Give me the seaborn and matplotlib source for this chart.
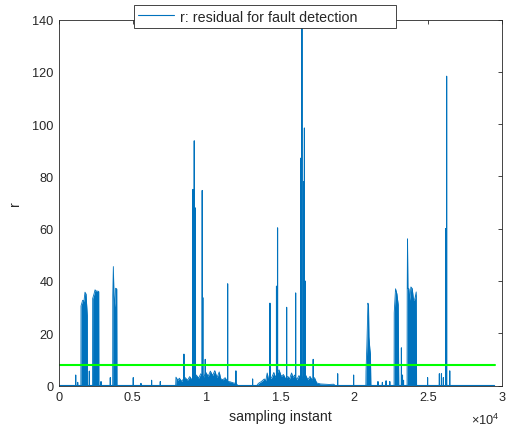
"""
Residual r for fault detection vs. sampling instant, with detection threshold
"""

import numpy as np
import pandas as pd
import matplotlib
matplotlib.use('Agg')
import matplotlib.pyplot as plt
from matplotlib.ticker import FuncFormatter
import seaborn as sns

# isolated spikes of the residual (sampling instant, peak value)
spike_t = [1130, 1265, 2055, 2845, 3475, 5030, 5550, 6270, 6860, 8460,
           9070, 9160, 9210, 9240, 9700, 9740, 9905, 11420, 11980, 13110,
           14285, 14730, 14800, 15415, 16025, 16385, 16450, 16570, 16620, 16660,
           17215, 18870, 19950, 21600, 21900, 22150, 22400, 23190, 23260, 23330,
           24960, 25760, 25900, 26030, 26180, 26250, 26460]
spike_r = [4, 1.2, 5.5, 1.5, 3, 3, 0.8, 2, 1.5, 12,
           75, 93.6, 68, 39, 74.6, 33.6, 10, 38.9, 5.6, 2.5,
           31.5, 38, 60.3, 29.9, 35.4, 87, 137, 78, 98.5, 40,
           10, 4.5, 4, 1.5, 1.2, 1.8, 1.5, 14.4, 4, 2,
           3, 4.5, 4.5, 3, 60, 118.3, 5.6]

# dense parts (fault bursts) as upper envelope points
burst_t = [1480, 1490, 1600, 1690, 1760, 1830, 1875, 1915, 1925,
           2270, 2280, 2370, 2440, 2530, 2620, 2690, 2700,
           3635, 3640, 3680, 3720, 3780, 3830, 3910, 3925,
           20780, 20790, 20850, 20920, 20960, 20990, 21050, 21090, 21120,
           22690, 22700, 22790, 22880, 22970, 23010,
           23570, 23580, 23600, 23630, 23690, 23760, 23830, 23920, 24010, 24100, 24190, 24215]
burst_r = [0, 30.4, 32.6, 32.3, 35.7, 35, 30.7, 26.8, 0,
           0, 33.3, 35, 36.6, 36.1, 36.1, 36, 0,
           0, 34.5, 45.5, 34.5, 30, 37.2, 37, 0,
           0, 5.5, 15.6, 31.5, 30.5, 18.6, 14, 12, 0,
           0, 27.8, 37, 35.1, 30.9, 0,
           0, 37, 56.1, 37, 37.1, 32.6, 37.7, 37.1, 32.6, 33.2, 35.8, 0]

# low level noise floor (upper envelope)
noise_t = [7900, 7920, 8050, 8150, 8300, 8420, 8550, 8700, 8850, 9000, 9150, 9300,
           9450, 9600, 9800, 9950, 10100, 10250, 10400, 10550, 10700, 10850, 10950,
           11100, 11250, 11400, 11600, 11800, 12000, 12100,
           13400, 13500, 13700, 13900, 14000, 14100, 14200, 14400, 14550, 14650, 14750,
           14900, 15050, 15200, 15350, 15500, 15600, 15750, 15850, 15950, 16100, 16250,
           16400, 16550, 16700, 16850, 17000, 17150, 17300, 17450, 17700, 18000, 18300,
           18600, 18700]
noise_r = [0, 3.2, 2.0, 2.8, 1.6, 2.4, 3.0, 2.0, 3.4, 2.2, 3.0, 4.0,
           2.8, 4.5, 3.2, 5.0, 3.5, 5.5, 3.8, 5.7, 3.0, 5.2, 2.6,
           2.2, 3.0, 1.6, 1.4, 1.0, 0.8, 0,
           0, 0.8, 1.5, 2.5, 1.8, 4.8, 2.0, 3.0, 5.0, 3.0, 4.5,
           6.0, 3.5, 4.2, 2.5, 3.5, 2.4, 4.8, 3.0, 4.0, 2.2, 3.8,
           2.6, 3.5, 4.0, 2.2, 3.5, 2.0, 3.0, 1.0, 0.6, 0.5, 0.4,
           0.5, 0]

t_end = 29500
threshold = 7.8

BLUE = '#0072BD'
GREEN = '#00FF00'
DARK = '#262626'

# spike series: baseline at 0 with a narrow peak at each spike
line_t, line_r = [0], [0.0]
for t, r in zip(spike_t, spike_r):
    line_t += [t - 2, t, t + 2]
    line_r += [0.0, r, 0.0]
line_t.append(t_end)
line_r.append(0.0)
spikes = pd.DataFrame({'t': line_t, 'r': line_r})

floor = pd.DataFrame({'t': burst_t + noise_t, 'r': burst_r + noise_r}).sort_values('t')
thresh = pd.DataFrame({'t': [0, t_end], 'r': [threshold, threshold]})

sns.set_style('white')
plt.rcParams['font.family'] = ['Liberation Sans', 'DejaVu Sans']
plt.rcParams['mathtext.fontset'] = 'custom'
plt.rcParams['mathtext.rm'] = 'Liberation Sans'
plt.rcParams['mathtext.it'] = 'Liberation Sans:italic'

fig = plt.figure(figsize=(5.08, 4.27), dpi=100)
ax = fig.add_axes([59 / 508, 1 - 386.5 / 427, 443 / 508, 366 / 427])

sns.lineplot(data=spikes, x='t', y='r', sort=False, estimator=None,
             color=BLUE, linewidth=0.8, ax=ax)
ax.fill_between(floor['t'], floor['r'], color=BLUE, linewidth=0)
sns.lineplot(data=floor, x='t', y='r', sort=False, estimator=None,
             color=BLUE, linewidth=0.6, ax=ax)
sns.lineplot(data=thresh, x='t', y='r', sort=False, estimator=None,
             color=GREEN, linewidth=1.5, ax=ax)

ax.set_xlim(0, 30000)
ax.set_ylim(0, 140)
ax.set_xticks(np.arange(0, 30001, 5000))
ax.set_yticks(np.arange(0, 141, 20))
ax.xaxis.set_major_formatter(FuncFormatter(lambda v, p: f'{v / 1e4:g}'))
ax.tick_params(direction='in', top=True, right=True, length=3, width=0.6,
               color=DARK, labelcolor=DARK, labelsize=9.2, pad=4)
for s in ax.spines.values():
    s.set_color(DARK)
    s.set_linewidth(0.6)

ax.set_xlabel('sampling instant', fontsize=10.2, color=DARK, labelpad=4)
ax.set_ylabel('r', fontsize=10.2, color=DARK, labelpad=7)
fig.text(500 / 508, 2 / 427, r'$\times10^{4}$', ha='right', va='baseline',
         fontsize=9.2, color=DARK)

leg = ax.legend(handles=[ax.lines[0]], labels=['r: residual for fault detection'],
                loc='center left', bbox_to_anchor=(134 / 508, 1 - 17.5 / 427, 262 / 508, 0),
                bbox_transform=fig.transFigure, mode='expand', frameon=True,
                fancybox=False, framealpha=1, edgecolor=DARK, fontsize=10.3,
                handlelength=2.5, handletextpad=0.45, borderpad=0.3, borderaxespad=0)
leg.get_frame().set_linewidth(0.6)

plt.savefig('out.png', dpi=100)
plt.close()
